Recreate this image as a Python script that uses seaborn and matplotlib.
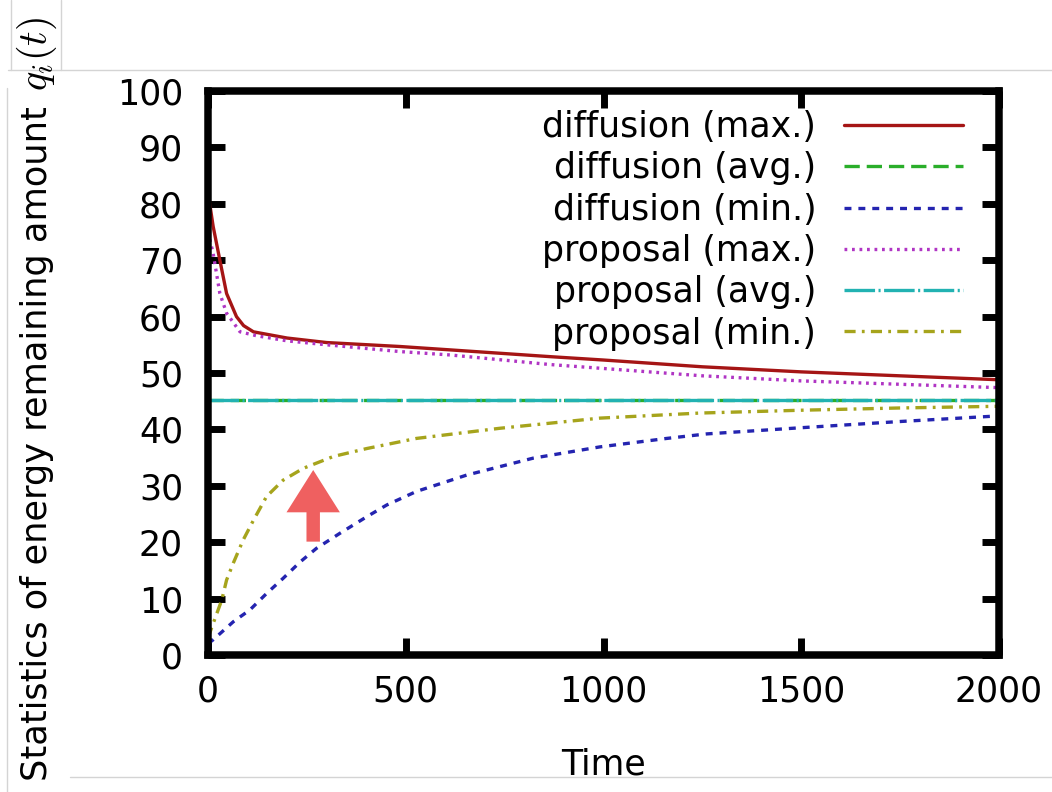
import numpy as np
import seaborn as sns
import matplotlib.pyplot as plt
from matplotlib.lines import Line2D

# values
t_diff_max = [0, 13, 30, 47, 72, 90, 115, 200, 300, 485, 612, 865, 1000, 1250, 1500, 1750, 2000]
v_diff_max = [82, 76, 70, 64.1, 60, 58.4, 57.3, 56.2, 55.4, 54.7, 54.1, 52.9, 52.3, 51.1, 50.2, 49.5, 48.8]

t_diff_avg = [0, 2000]
v_diff_avg = [45.3, 45.3]

t_diff_min = [0, 13, 64, 106, 148, 190, 233, 274, 334, 401, 452, 527, 654, 822, 991, 1160, 1261, 1500, 1750, 2000]
v_diff_min = [2.0, 2.7, 5.9, 8.0, 10.9, 13.6, 16.5, 18.9, 21.6, 24.5, 26.6, 29.0, 31.9, 34.9, 36.9, 38.4, 39.2, 40.3, 41.4, 42.4]

t_prop_max = [0, 13, 30, 47, 81, 123, 200, 300, 485, 612, 865, 1000, 1250, 1500, 1750, 2000]
v_prop_max = [75, 71.2, 64.1, 60.6, 57.3, 56.6, 55.7, 55.0, 53.8, 53.2, 51.5, 50.8, 49.5, 48.6, 48.0, 47.4]

t_prop_avg = [0, 2000]
v_prop_avg = [45.3, 45.3]

t_prop_min = [0, 9, 35, 47, 64, 89, 115, 148, 190, 241, 317, 401, 527, 738, 991, 1244, 1500, 1750, 2000]
v_prop_min = [3.0, 4.8, 9.8, 13.3, 16.3, 20.4, 23.9, 28.1, 31.0, 33.1, 35.2, 36.6, 38.4, 40.2, 42.0, 42.9, 43.4, 43.8, 44.1]

labels = ["diffusion (max.)", "diffusion (avg.)", "diffusion (min.)",
          "proposal (max.)", "proposal (avg.)", "proposal (min.)"]
colors = ["#a51515", "#2aae2a", "#2424b0", "#b035c4", "#22b2b2", "#a6a41c"]
dashes = ["-", (0, (11, 5)), (0, (5, 5)), (0, (2, 3.4)),
          (0, (22, 2.5, 1.5, 2.5)), (0, (8, 4.5, 2, 4.5))]

x_ticks = [0, 500, 1000, 1500, 2000]
y_ticks = list(range(0, 101, 10))

# the red arrow drawn on the figure (time, value)
arrow_x, arrow_y0, arrow_y1 = 266, 20.1, 32.8


def main():
    sns.set_style("ticks")
    plt.rcParams['font.family'] = ['DejaVu Sans']
    plt.rcParams['mathtext.fontset'] = 'cm'
    plt.rcParams['lines.scale_dashes'] = False
    plt.rcParams['text.color'] = 'black'
    plt.rcParams['axes.labelcolor'] = 'black'

    fig = plt.figure(figsize=(10.52, 7.92), dpi=100)
    ax = fig.add_axes([208 / 1052, 1 - 655 / 792, 791 / 1052, 564 / 792])

    series = [(t_diff_max, v_diff_max), (t_diff_avg, v_diff_avg), (t_diff_min, v_diff_min),
              (t_prop_max, v_prop_max), (t_prop_avg, v_prop_avg), (t_prop_min, v_prop_min)]
    for (t, v), lab, col, ls in zip(series, labels, colors, dashes):
        sns.lineplot(x=t, y=v, ax=ax, color=col, lw=2.4, label=lab, sort=False)
        ax.lines[-1].set_linestyle(ls)

    ax.arrow(arrow_x, arrow_y0, 0, arrow_y1 - arrow_y0, width=34, head_width=135,
             head_length=7.5, length_includes_head=True, color="#ef6060", lw=0, zorder=5)

    ax.set_xlim(0, 2000)
    ax.set_ylim(0, 100)
    ax.set_xticks(x_ticks)
    ax.set_yticks(y_ticks)
    ax.tick_params(direction='in', length=12, width=5, labelsize=25,
                   top=True, right=True, pad=14, color='black', labelcolor='black')
    ax.tick_params(axis='y', pad=18)
    for s in ax.spines.values():
        s.set_linewidth(5.4)
        s.set_color('black')
    ax.set_xlabel("Time", fontsize=25, labelpad=28)
    ax.set_ylabel("")

    # y label: plain part and the math symbol, the symbol drawn a bit larger
    fig.text(37 / 1052, 1 - 444 / 792, "Statistics of energy remaining amount",
             rotation=90, ha='center', va='center', fontsize=25.3)
    fig.text(37 / 1052, 1 - 54 / 792, "$q_i(t)$",
             rotation=90, ha='center', va='center', fontsize=29)

    ax.legend(loc='upper right', bbox_to_anchor=(0.9545, 0.966), frameon=False,
              markerfirst=False, fontsize=25, handlelength=3.43, handletextpad=0.8,
              borderpad=0, borderaxespad=0, labelspacing=0.21)

    # thin grey borders of the screenshot
    grey = '#d4d4d4'
    for xs, ys in [((11, 11), (0, 70)), ((61, 61), (0, 70)), ((8, 1052), (70, 70)),
                   ((7, 7), (88, 792)), ((70, 1052), (777, 777))]:
        fig.add_artist(Line2D([x / 1052 for x in xs], [1 - y / 792 for y in ys],
                              color=grey, lw=1))

    fig.savefig("out.png", dpi=100)


main()
